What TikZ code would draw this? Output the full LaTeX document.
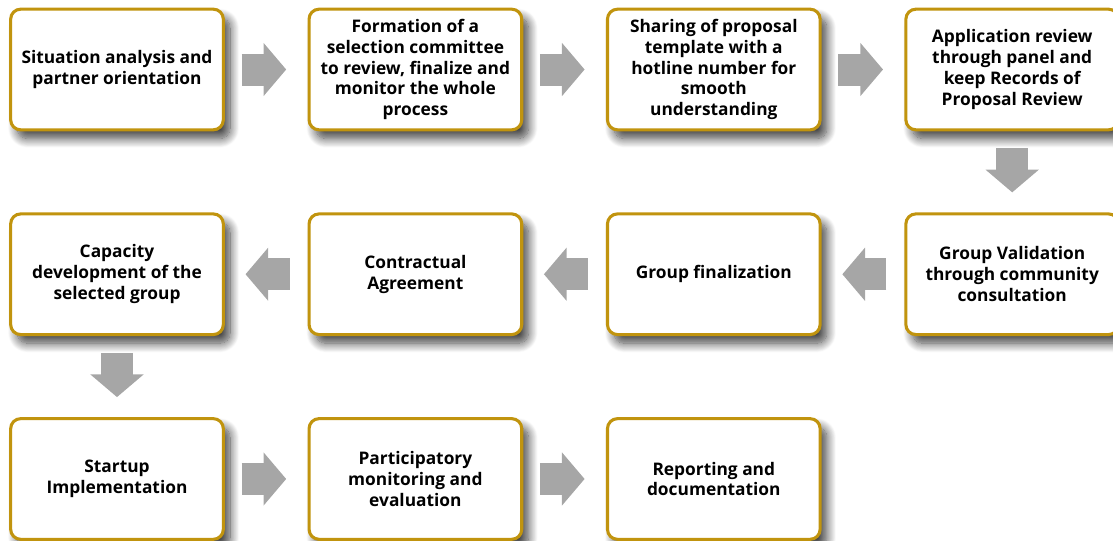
\documentclass[tikz,border=0pt]{standalone}
\usepackage{fontspec}
\setmainfont{Open Sans}
\usetikzlibrary{arrows.meta,positioning,shadows.blur}
\definecolor{boxgold}{RGB}{193,148,14}
\definecolor{arrowgray}{RGB}{166,166,166}

\begin{document}
\begin{tikzpicture}[x=0.75pt, y=-0.75pt, node distance=60.75pt and 62pt,
  main/.style = {draw=boxgold, line width=2.3pt, fill=white, rounded corners=7.5pt, minimum width=159.5pt, minimum height=90.5pt, align=center, font=\bfseries\fontsize{13}{15.6}\selectfont, blur shadow={shadow xshift=5pt, shadow yshift=-6.5pt, shadow blur radius=7pt, shadow blur steps=14, shadow opacity=75}},
  flow/.style = {draw=arrowgray, line width=24pt, -{Triangle[length=17pt, width=39pt]}}]
  \useasboundingbox (0,0) rectangle (1113,540);

  % Nodes
  \node[main] (situation) at (117,69.5) {Situation analysis and\\partner orientation};
  \node[main] (committee) [right=of situation] {Formation of a\\selection committee\\to review, finalize and\\monitor the whole\\process};
  \node[main] (template) [right=of committee] {Sharing of proposal\\template with a\\hotline number for\\smooth\\understanding};
  \node[main] (review) [right=of template] {Application review\\through panel and\\keep Records of\\Proposal Review};

  \node[main] (validation) [below=of review] {Group Validation\\through community\\consultation};
  \node[main] (final) [left=of validation] {Group finalization};
  \node[main] (contract) [left=of final] {Contractual\\Agreement};
  \node[main] (capacity) [left=of contract] {Capacity\\development of the\\selected group};

  \node[main] (startup) [below=of capacity] {Startup\\Implementation};
  \node[main] (monitoring) [right=of startup] {Participatory\\monitoring and\\evaluation};
  \node[main] (reporting) [right=of monitoring] {Reporting and\\documentation};

  % Paths
  \draw[flow] ([xshift=12.5pt]situation.east) -- ([xshift=-16pt]committee.west);
  \draw[flow] ([xshift=12.5pt]committee.east) -- ([xshift=-16pt]template.west);
  \draw[flow] ([xshift=12.5pt]template.east) -- ([xshift=-16pt]review.west);
  \draw[flow] ([yshift=-12.5pt]review.south) -- ([yshift=15pt]validation.north);
  \draw[flow] ([xshift=-13.5pt]validation.west) -- ([xshift=15.5pt]final.east);
  \draw[flow] ([xshift=-13.5pt]final.west) -- ([xshift=15.5pt]contract.east);
  \draw[flow] ([xshift=-13.5pt]contract.west) -- ([xshift=15.5pt]capacity.east);
  \draw[flow] ([yshift=-12.5pt]capacity.south) -- ([yshift=15pt]startup.north);
  \draw[flow] ([xshift=12.5pt]startup.east) -- ([xshift=-16pt]monitoring.west);
  \draw[flow] ([xshift=12.5pt]monitoring.east) -- ([xshift=-16pt]reporting.west);
\end{tikzpicture}
\end{document}
